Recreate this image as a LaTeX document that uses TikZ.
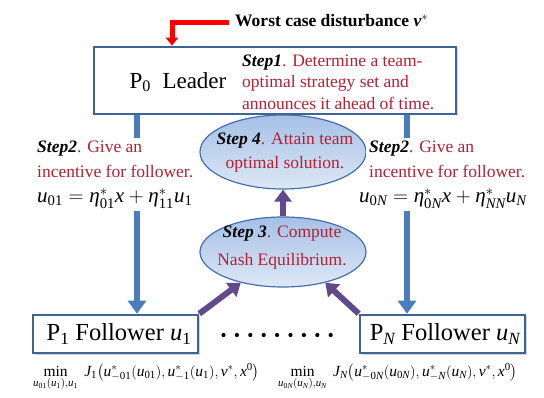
\documentclass[tikz,border=0pt]{standalone}
\usepackage{amsmath}
\usepackage{fontspec}
\setmainfont{Liberation Serif}
\usetikzlibrary{arrows.meta,shapes.geometric,shadows}
\newcommand\vi[1]{\textit{#1}}
\definecolor{stepred}{RGB}{178,34,52}
\definecolor{boxblue}{RGB}{62,100,148}
\definecolor{arrblue}{RGB}{74,126,187}
\definecolor{arrpurple}{RGB}{96,74,140}
\definecolor{ellborder}{RGB}{70,110,170}
\begin{document}
\begin{tikzpicture}[x=1pt,y=-1pt,
  player/.style={draw=boxblue,line width=2.6pt,fill=white,rectangle,inner sep=0pt,
    drop shadow={opacity=0.35,shadow xshift=1.5pt,shadow yshift=-1.5pt}},
  stepell/.style={ellipse,draw=ellborder,line width=1.2pt,top color={rgb,255:red,165;green,192;blue,230},
    bottom color={rgb,255:red,222;green,232;blue,246},minimum width=166pt,inner sep=0pt},
  steptxt/.style={text=stepred,font=\fontsize{17.5}{24}\selectfont,align=left,inner sep=0pt},
  bluearrow/.style={draw=arrblue,line width=6pt,-{Triangle[width=18pt,length=13pt]}},
  purplearrow/.style={draw=arrpurple,line width=6pt,-{Triangle[width=17pt,length=12pt]}},
  redarrow/.style={draw=red,line width=5pt,-{Triangle[width=12pt,length=8pt]}},
]
\useasboundingbox (0,0) rectangle (544,398);

% boxes
\node[player,minimum width=362pt,minimum height=67pt] (leader) at (275,80.5) {};
\node[player,minimum width=165pt,minimum height=38pt] (f1) at (115.5,334) {};
\node[player,minimum width=165pt,minimum height=38pt] (fN) at (442.5,334) {};

\node[font=\fontsize{23}{23}\selectfont,inner sep=0pt] (p0) at (178,82) {P$_{\mathrm{0}}$\ \ Leader};
\node[font=\fontsize{24.5}{24.5}\selectfont,inner sep=0pt] (p1) at (119,334) {P$_{\mathrm{1}}$ Follower $\vi{u}_{\mathrm{1}}$};
\node[font=\fontsize{24.5}{24.5}\selectfont,inner sep=0pt] (pN) at (445,334) {P$_{\vi{N}}$ Follower $\vi{u}_{\vi{N}}$};

\node[steptxt,anchor=west,font=\fontsize{17.5}{21.5}\selectfont] (s1) at (242,82)
  {\textcolor{black}{\textbf{\textit{Step1}}}. Determine a team-\\optimal strategy set and\\announces it ahead of time.};

% worst case disturbance
\node[font=\bfseries\fontsize{17.5}{17.5}\selectfont,anchor=west,inner sep=0pt] (wc) at (235,21)
  {Worst case disturbance \textit{v}$^{*}$};
\coordinate (rs) at (229,23);
\coordinate (rx) at (172,0);
\draw[redarrow] (rs) -| (leader.north -| rx);

% ellipses
\node[stepell,minimum height=74pt] (s4) at (283,152) {};
\node[steptxt,align=center] (s4t) at (285,153)
  {\textcolor{black}{\textbf{\textit{Step 4}}}. Attain team\\optimal solution.};
\node[stepell,minimum height=70pt] (s3) at (283,252) {};
\node[steptxt,align=center,font=\fontsize{17.5}{28}\selectfont] (s3t) at (282,248)
  {\textcolor{black}{\textbf{\textit{Step 3}}}. Compute\\Nash Equilibrium.};

% blue arrows
\coordinate (bl) at (137,0);
\coordinate (br) at (407,0);
\draw[bluearrow] (leader.south -| bl) -- (f1.north -| bl);
\draw[bluearrow] (leader.south -| br) -- (fN.north -| br);

% step 2 texts
\node[steptxt,fill=white,anchor=north west,inner sep=3pt,font=\fontsize{17.5}{25}\selectfont] (s2l) at (34,138)
  {\textcolor{black}{\textbf{\textit{Step2}}}. Give an\\incentive for follower.\\
   \textcolor{black}{\fontsize{21}{21}\selectfont$\vi{u}_{\mathrm{01}}=\vi{η}^{*}_{\mathrm{01}}\vi{x}+\vi{η}^{*}_{\mathrm{11}}\vi{u}_{\mathrm{1}}$}};
\node[steptxt,fill=white,anchor=north west,inner sep=3pt,font=\fontsize{17.5}{25}\selectfont] (s2r) at (366,138)
  {\textcolor{black}{\textbf{\textit{Step2}}}. Give an\\incentive for follower.\\
   \textcolor{black}{\fontsize{21}{21}\selectfont\hspace*{-10pt}$\vi{u}_{\mathrm{0}\vi{N}}=\vi{η}^{*}_{\mathrm{0}\vi{N}}\vi{x}+\vi{η}^{*}_{\vi{NN}}\vi{u}_{\vi{N}}$}};

% purple arrows
\draw[purplearrow] (s3.north) -- (s4.south);
\draw[purplearrow] (f1.north east) -- (s3.216);
\draw[purplearrow] (fN.north west) -- (s3.324);

% dots
\node[inner sep=0pt] (dots) at (277,335) {};
\foreach \i in {0,...,8} \fill (223.5+13.4*\i,335) circle (2.1pt);

% objective formulas
\node[anchor=north west,inner sep=0pt,font=\fontsize{15.5}{15.5}\selectfont] (o1) at (33,363)
  {$\displaystyle\min_{\vi{u}_{\mathrm{01}}(\vi{u}_{\mathrm{1}}),\vi{u}_{\mathrm{1}}}\ \vi{J}_{\mathrm{1}}\bigl(\vi{u}^{*}_{-\mathrm{01}}(\vi{u}_{\mathrm{01}}),\vi{u}^{*}_{-\mathrm{1}}(\vi{u}_{\mathrm{1}}),\vi{v}^{*},\vi{x}^{\mathrm{0}}\bigr)$};
\node[anchor=north west,inner sep=0pt,font=\fontsize{15.5}{15.5}\selectfont] (oN) at (278,363)
  {$\displaystyle\min_{\vi{u}_{\mathrm{0}\vi{N}}(\vi{u}_{\vi{N}}),\vi{u}_{\vi{N}}}\ \vi{J}_{\vi{N}}\bigl(\vi{u}^{*}_{-\mathrm{0}\vi{N}}(\vi{u}_{\mathrm{0}\vi{N}}),\vi{u}^{*}_{-\vi{N}}(\vi{u}_{\vi{N}}),\vi{v}^{*},\vi{x}^{\mathrm{0}}\bigr)$};
\end{tikzpicture}
\end{document}
